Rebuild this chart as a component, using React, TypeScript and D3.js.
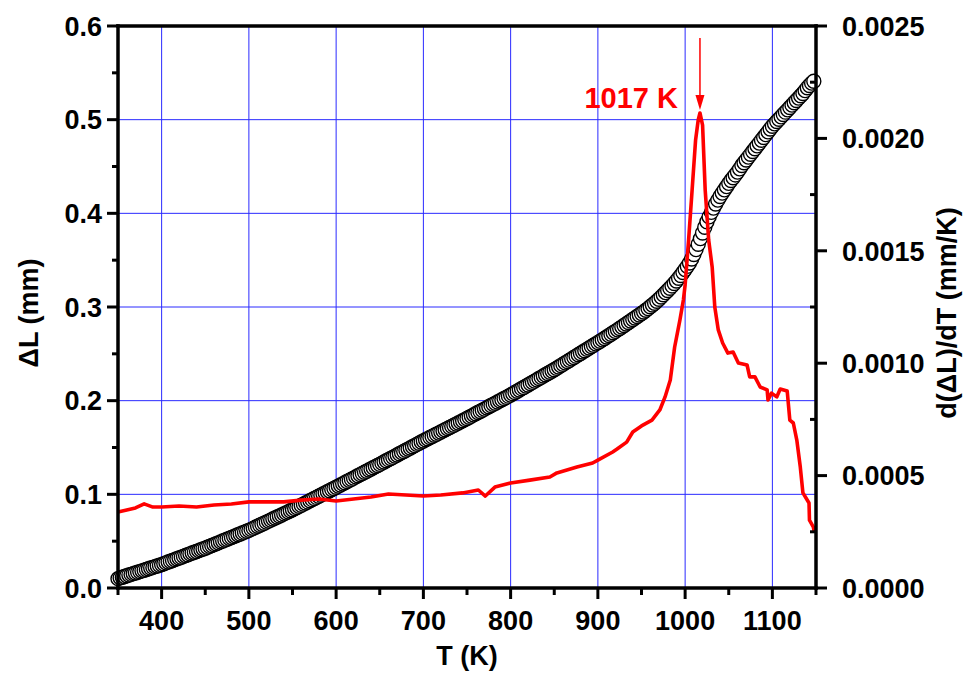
import React from 'react';
import * as d3 from 'd3';

// ---------- data ----------
const xMajorTicks = [400, 500, 600, 700, 800, 900, 1000, 1100];
const xMinorTicks = [350, 450, 550, 650, 750, 850, 950, 1050, 1150];
const yLeftMajor = [0, 0.1, 0.2, 0.3, 0.4, 0.5, 0.6];
const yLeftMinor = [0.05, 0.15, 0.25, 0.35, 0.45, 0.55];
const yRightMajor = [0, 0.0005, 0.001, 0.0015, 0.002, 0.0025];
const yRightMinor = [0.00025, 0.00075, 0.00125, 0.00175, 0.00225];
const gridX = [400, 500, 600, 700, 800, 900, 1000, 1100];
const gridY = [0.1, 0.2, 0.3, 0.4, 0.5];

// ΔL (mm) sampled every 2.5 K from 350 K
const dlTemps = d3.range(350, 1148, 2.5);
const dlValues = [
  0.0100, 0.0108, 0.0115, 0.0123, 0.0130, 0.0138, 0.0145, 0.0153, 0.0160, 0.0168,
  0.0175, 0.0183, 0.0190, 0.0198, 0.0205, 0.0213, 0.0220, 0.0228, 0.0235, 0.0243,
  0.0250, 0.0259, 0.0268, 0.0277, 0.0285, 0.0294, 0.0303, 0.0312, 0.0320, 0.0329,
  0.0338, 0.0347, 0.0355, 0.0364, 0.0373, 0.0382, 0.0390, 0.0399, 0.0408, 0.0417,
  0.0425, 0.0435, 0.0444, 0.0454, 0.0463, 0.0473, 0.0482, 0.0492, 0.0501, 0.0511,
  0.0520, 0.0530, 0.0539, 0.0549, 0.0558, 0.0568, 0.0577, 0.0587, 0.0596, 0.0606,
  0.0615, 0.0626, 0.0637, 0.0648, 0.0659, 0.0670, 0.0681, 0.0692, 0.0703, 0.0714,
  0.0725, 0.0736, 0.0747, 0.0758, 0.0769, 0.0780, 0.0791, 0.0802, 0.0813, 0.0824,
  0.0835, 0.0847, 0.0859, 0.0871, 0.0883, 0.0895, 0.0907, 0.0919, 0.0931, 0.0943,
  0.0955, 0.0967, 0.0979, 0.0991, 0.1003, 0.1015, 0.1027, 0.1039, 0.1051, 0.1063,
  0.1075, 0.1088, 0.1100, 0.1112, 0.1124, 0.1137, 0.1149, 0.1161, 0.1173, 0.1186,
  0.1198, 0.1210, 0.1222, 0.1235, 0.1247, 0.1259, 0.1271, 0.1284, 0.1296, 0.1308,
  0.1320, 0.1333, 0.1345, 0.1358, 0.1370, 0.1383, 0.1395, 0.1408, 0.1420, 0.1433,
  0.1445, 0.1458, 0.1470, 0.1483, 0.1495, 0.1508, 0.1520, 0.1533, 0.1545, 0.1558,
  0.1570, 0.1582, 0.1594, 0.1606, 0.1618, 0.1630, 0.1642, 0.1654, 0.1666, 0.1678,
  0.1690, 0.1702, 0.1714, 0.1726, 0.1738, 0.1750, 0.1762, 0.1774, 0.1786, 0.1798,
  0.1810, 0.1823, 0.1835, 0.1848, 0.1860, 0.1873, 0.1885, 0.1898, 0.1910, 0.1923,
  0.1935, 0.1948, 0.1960, 0.1973, 0.1985, 0.1998, 0.2010, 0.2023, 0.2035, 0.2048,
  0.2060, 0.2074, 0.2087, 0.2101, 0.2114, 0.2128, 0.2141, 0.2155, 0.2168, 0.2182,
  0.2195, 0.2209, 0.2222, 0.2236, 0.2249, 0.2263, 0.2276, 0.2290, 0.2303, 0.2317,
  0.2330, 0.2345, 0.2359, 0.2374, 0.2388, 0.2403, 0.2417, 0.2432, 0.2446, 0.2461,
  0.2475, 0.2490, 0.2504, 0.2519, 0.2533, 0.2548, 0.2562, 0.2577, 0.2591, 0.2606,
  0.2620, 0.2635, 0.2649, 0.2664, 0.2679, 0.2694, 0.2709, 0.2725, 0.2740, 0.2756,
  0.2771, 0.2787, 0.2802, 0.2818, 0.2834, 0.2850, 0.2866, 0.2882, 0.2898, 0.2914,
  0.2930, 0.2947, 0.2965, 0.2983, 0.3002, 0.3021, 0.3040, 0.3061, 0.3082, 0.3106,
  0.3130, 0.3153, 0.3176, 0.3200, 0.3225, 0.3251, 0.3278, 0.3307, 0.3336, 0.3368,
  0.3400, 0.3434, 0.3470, 0.3513, 0.3560, 0.3613, 0.3670, 0.3730, 0.3790, 0.3851,
  0.3910, 0.3962, 0.4010, 0.4056, 0.4100, 0.4141, 0.4180, 0.4216, 0.4250, 0.4285,
  0.4320, 0.4350, 0.4380, 0.4410, 0.4440, 0.4475, 0.4510, 0.4540, 0.4570, 0.4600,
  0.4630, 0.4660, 0.4690, 0.4720, 0.4750, 0.4780, 0.4810, 0.4840, 0.4870, 0.4900,
  0.4930, 0.4955, 0.4980, 0.5005, 0.5030, 0.5055, 0.5080, 0.5105, 0.5130, 0.5155,
  0.5180, 0.5205, 0.5230, 0.5255, 0.5280, 0.5310, 0.5340, 0.5365, 0.5390, 0.5410,
];

// d(ΔL)/dT (mm/K)
const derivT = [
  350, 360, 370, 380, 390, 400, 420, 440, 460, 480, 500, 520, 540, 560, 580, 600, 620,
  640, 660, 680, 700, 720, 745, 763, 771, 782, 800, 822, 845, 853, 876, 894, 900, 917,
  922, 933, 940, 950, 962, 971, 977, 983, 988, 994, 998, 1000, 1004, 1008, 1012, 1015,
  1017, 1020, 1023, 1027, 1031, 1034, 1038, 1043, 1049, 1055, 1061, 1071, 1074, 1080,
  1086, 1094, 1095, 1099, 1105, 1109, 1117, 1120, 1124, 1128, 1132, 1135, 1142, 1142.5,
  1147, 1148,
];
const derivV = [
  0.000338, 0.000347, 0.000356, 0.000374, 0.000360, 0.000360, 0.000365, 0.000360,
  0.000369, 0.000374, 0.000383, 0.000383, 0.000383, 0.000391, 0.000396, 0.000387,
  0.000396, 0.000405, 0.000418, 0.000414, 0.000409, 0.000414, 0.000423, 0.000436,
  0.000409, 0.000449, 0.000467, 0.000480, 0.000494, 0.000512, 0.000538, 0.000556,
  0.000569, 0.000605, 0.000618, 0.000649, 0.000694, 0.000721, 0.000747, 0.000792,
  0.000850, 0.000925, 0.001072, 0.001192, 0.001281, 0.001348, 0.001548, 0.001770,
  0.001993, 0.002082, 0.002113, 0.002059, 0.001770, 0.001548, 0.001428, 0.001250,
  0.001148, 0.001090, 0.001045, 0.001050, 0.001001, 0.000992, 0.000939, 0.000939,
  0.000894, 0.000881, 0.000836, 0.000867, 0.000850, 0.000885, 0.000876, 0.000747,
  0.000734, 0.000658, 0.000538, 0.000423, 0.000378, 0.000302, 0.000271, 0.000249,
];

const peakT = 1017;
const peakV = 0.002113;
const peakLabel = '1017 K';

// ---------- layout ----------
const W = 963;
const H = 673;
const L = 118, R = 816, T = 26, B = 588;
const FONT = "'Liberation Sans', Arial, Helvetica, sans-serif";
const FS = 27;

export default function App() {
  const x = d3.scaleLinear().domain([350, 1150]).range([L, R]);
  const yL = d3.scaleLinear().domain([0, 0.6]).range([B, T]);
  const yR = d3.scaleLinear().domain([0, 0.0025]).range([B, T]);

  const redLine = d3
    .line<number>()
    .x((_, i) => x(derivT[i]))
    .y((d) => yR(d))
    .curve(d3.curveLinear);

  const axisW = 3.5;
  const major = 11;
  const minor = 6;

  const px = x(peakT);
  const py = yR(peakV);

  return (
    <svg
      width={W}
      height={H}
      style={{ position: 'absolute', left: 0, top: 0, background: '#fff' }}
      fontFamily={FONT}
      fontWeight="bold"
    >
      <rect x={0} y={0} width={W} height={H} fill="#fff" />
      {/* grid */}
      <g stroke="#2a2aff" strokeWidth={1}>
        {gridX.map((v) => (
          <line key={'gx' + v} x1={x(v)} x2={x(v)} y1={T} y2={B} />
        ))}
        {gridY.map((v) => (
          <line key={'gy' + v} x1={L} x2={R} y1={yL(v)} y2={yL(v)} />
        ))}
      </g>

      {/* ΔL circles */}
      <g fill="#fff" stroke="#000" strokeWidth={1.4}>
        {dlValues.map((v, i) => (
          <circle key={'c' + i} cx={x(dlTemps[i])} cy={yL(v)} r={7} />
        ))}
      </g>

      {/* derivative curve */}
      <path d={redLine(derivV) || ''} fill="none" stroke="#ff0000" strokeWidth={3.6} strokeLinejoin="round" />

      {/* arrow + label */}
      <line x1={px} x2={px} y1={38} y2={py - 14} stroke="#ff0000" strokeWidth={1.5} />
      <path d={`M${px - 4.5},${py - 18} L${px + 4.5},${py - 18} L${px},${py - 3} Z`} fill="#ff0000" />
      <text x={px - 22} y={108} textAnchor="end" fill="#ff0000" fontSize={29}>
        {peakLabel}
      </text>

      {/* frame */}
      <g stroke="#000" strokeWidth={axisW} strokeLinecap="square">
        <line x1={L} x2={R} y1={T} y2={T} />
        <line x1={L} x2={R} y1={B} y2={B} />
        <line x1={L} x2={L} y1={T} y2={B} />
        <line x1={R} x2={R} y1={T} y2={B} />
      </g>

      {/* ticks */}
      <g stroke="#000" strokeWidth={3}>
        {xMajorTicks.map((v) => (
          <line key={'xm' + v} x1={x(v)} x2={x(v)} y1={B} y2={B + major} />
        ))}
        {xMinorTicks.map((v) => (
          <line key={'xn' + v} x1={x(v)} x2={x(v)} y1={B} y2={B + minor + 1} />
        ))}
        {yLeftMajor.map((v) => (
          <line key={'lm' + v} x1={L - major} x2={L} y1={yL(v)} y2={yL(v)} />
        ))}
        {yLeftMinor.map((v) => (
          <line key={'ln' + v} x1={L - minor} x2={L} y1={yL(v)} y2={yL(v)} />
        ))}
        {yRightMajor.map((v) => (
          <line key={'rm' + v} x1={R} x2={R + major} y1={yR(v)} y2={yR(v)} />
        ))}
        {yRightMinor.map((v) => (
          <line key={'rn' + v} x1={R - minor} x2={R} y1={yR(v)} y2={yR(v)} />
        ))}
      </g>

      {/* tick labels */}
      <g fontSize={FS} fill="#000">
        {xMajorTicks.map((v) => (
          <text key={'xl' + v} x={x(v)} y={B + 42} textAnchor="middle">
            {v}
          </text>
        ))}
        {yLeftMajor.map((v) => (
          <text key={'ll' + v} x={L - 16} y={yL(v)} dy="0.36em" textAnchor="end">
            {d3.format('.1f')(v)}
          </text>
        ))}
        {yRightMajor.map((v) => (
          <text key={'rl' + v} x={R + 26} y={yR(v)} dy="0.36em" textAnchor="start">
            {d3.format('.4f')(v)}
          </text>
        ))}
      </g>

      {/* axis titles */}
      <text x={(L + R) / 2} y={665} textAnchor="middle" fontSize={FS} fill="#000">
        T (K)
      </text>
      <text
        transform={`translate(38, ${(T + B) / 2 + 6}) rotate(-90)`}
        textAnchor="middle"
        fontSize={FS}
        fill="#000"
      >
        ΔL (mm)
      </text>
      <text
        transform={`translate(956, ${(T + B) / 2 + 6}) rotate(-90)`}
        textAnchor="middle"
        fontSize={FS}
        fill="#000"
      >
        d(ΔL)/dT (mm/K)
      </text>
    </svg>
  );
}
